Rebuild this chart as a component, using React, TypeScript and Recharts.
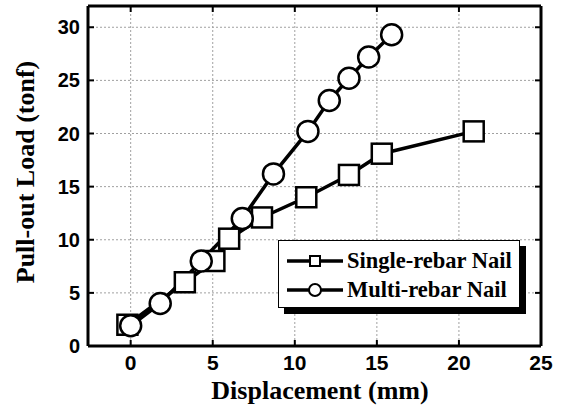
import React from "react";
import {
  LineChart,
  Line,
  XAxis,
  YAxis,
  CartesianGrid,
  Legend,
  Label,
} from "recharts";

// Single-rebar nail (squares)
const singleX = [-0.2, 3.3, 5.1, 6.0, 8.0, 10.7, 13.3, 15.3, 20.9];
const singleY = [2.0, 6.0, 8.0, 10.1, 12.1, 14.0, 16.1, 18.1, 20.2];
// Multi-rebar nail (circles)
const multiX = [0, 1.8, 4.3, 6.8, 8.7, 10.8, 12.1, 13.3, 14.5, 15.9];
const multiY = [1.9, 4.0, 8.0, 12.0, 16.2, 20.2, 23.1, 25.2, 27.2, 29.3];

const xTicks = [0, 5, 10, 15, 20, 25];
const yTicks = [0, 5, 10, 15, 20, 25, 30];

const seriesNames = ["Single-rebar Nail", "Multi-rebar Nail"];

// one table, sorted by displacement; each row carries one series value
const rows = [
  ...singleX.map((x, i) => ({ x, single: singleY[i] as number | null, multi: null as number | null })),
  ...multiX.map((x, i) => ({ x, single: null as number | null, multi: multiY[i] as number | null })),
].sort((a, b) => a.x - b.x);

const tickFont = "'Liberation Sans', Arial, sans-serif";
const titleFont = "'Liberation Serif', 'Times New Roman', serif";

const SquareDot = (props: any) => {
  const { cx, cy, index, value } = props;
  if (value == null || cy == null) return <g key={"s" + index} />;
  return (
    <rect
      key={"s" + index}
      x={cx - 10}
      y={cy - 10}
      width={20}
      height={20}
      fill="#fff"
      stroke="#000"
      strokeWidth={2.5}
    />
  );
};

const CircleDot = (props: any) => {
  const { cx, cy, index, value } = props;
  if (value == null || cy == null) return <g key={"c" + index} />;
  return (
    <circle
      key={"c" + index}
      cx={cx}
      cy={cy}
      r={10.5}
      fill="#fff"
      stroke="#000"
      strokeWidth={2.5}
    />
  );
};

const BottomTick = (props: any) => {
  const { x, y, payload } = props;
  return (
    <g>
      <path d={`M${x},${y}V${y - 6}`} stroke="#000" strokeWidth={2} />
      <text
        x={x}
        y={y + 24}
        textAnchor="middle"
        fontFamily={tickFont}
        fontWeight="bold"
        fontSize={21}
        fill="#000"
      >
        {payload.value}
      </text>
    </g>
  );
};

const TopTick = (props: any) => {
  const { x, y } = props;
  return <path d={`M${x},${y}V${y + 6}`} stroke="#000" strokeWidth={2} />;
};

const LeftTick = (props: any) => {
  const { x, y, payload } = props;
  return (
    <g>
      <path d={`M${x},${y}H${x + 6}`} stroke="#000" strokeWidth={2} />
      <text
        x={x - 8}
        y={y + 7}
        textAnchor="end"
        fontFamily={tickFont}
        fontWeight="bold"
        fontSize={20}
        fill="#000"
      >
        {payload.value}
      </text>
    </g>
  );
};

const RightTick = (props: any) => {
  const { x, y } = props;
  return <path d={`M${x},${y}H${x - 6}`} stroke="#000" strokeWidth={2} />;
};

const LegendBox = () => (
  <div
    style={{
      border: "1.5px solid #000",
      boxShadow: "6px 6px 0 #000",
      background: "#fff",
      padding: "5px 4px",
      width: 242,
      height: 68,
      boxSizing: "border-box",
    }}
  >
    {seriesNames.map((name, i) => (
      <div key={name} style={{ display: "flex", alignItems: "center", height: 29 }}>
        <svg width={60} height={20} style={{ marginRight: 4 }}>
          <path d="M4,10H60" stroke="#000" strokeWidth={3.5} />
          {i === 0 ? (
            <rect x={27} y={5} width={10} height={10} fill="#fff" stroke="#000" strokeWidth={2} />
          ) : (
            <circle cx={32} cy={10} r={6} fill="#fff" stroke="#000" strokeWidth={2} />
          )}
        </svg>
        <span
          style={{
            fontFamily: titleFont,
            fontWeight: "bold",
            fontSize: 22.5,
            color: "#000",
            whiteSpace: "nowrap",
          }}
        >
          {name}
        </span>
      </div>
    ))}
  </div>
);

const App = () => {
  return (
    <div style={{ position: "absolute", left: 0, top: 0, background: "#fff" }}>
      <LineChart
        width={566}
        height={410}
        data={rows}
        margin={{ top: 5, right: 24, bottom: 0, left: 0 }}
      >
        <CartesianGrid stroke="#a0a0a0" strokeDasharray="2 2" strokeWidth={1} />
        <XAxis
          type="number"
          dataKey="x"
          domain={[-2.6, 25]}
          ticks={xTicks}
          allowDataOverflow
          height={64}
          tickSize={0}
          tickMargin={0}
          tickLine={false}
          axisLine={{ stroke: "#000", strokeWidth: 3 }}
          tick={<BottomTick />}
        >
          <Label
            content={() => (
              <text
                x={320}
                y={399}
                textAnchor="middle"
                fontFamily={titleFont}
                fontWeight="bold"
                fontSize={26}
                fill="#000"
              >
                Displacement (mm)
              </text>
            )}
          />
        </XAxis>
        <XAxis
          xAxisId="t"
          orientation="top"
          type="number"
          dataKey="x"
          domain={[-2.6, 25]}
          ticks={xTicks}
          allowDataOverflow
          height={1}
          tickSize={0}
          tickMargin={0}
          tickLine={false}
          axisLine={{ stroke: "#000", strokeWidth: 3 }}
          tick={<TopTick />}
        />
        <YAxis
          type="number"
          domain={[0, 32]}
          ticks={yTicks}
          allowDataOverflow
          width={88}
          tickSize={0}
          tickMargin={0}
          tickLine={false}
          axisLine={{ stroke: "#000", strokeWidth: 3 }}
          tick={<LeftTick />}
        >
          <Label
            content={() => (
              <text
                x={25}
                y={172}
                transform="rotate(-90 25 172)"
                textAnchor="middle"
                dominantBaseline="central"
                fontFamily={titleFont}
                fontWeight="bold"
                fontSize={26}
                fill="#000"
              >
                Pull-out Load (tonf)
              </text>
            )}
          />
        </YAxis>
        <YAxis
          yAxisId="r"
          orientation="right"
          type="number"
          domain={[0, 32]}
          ticks={yTicks}
          allowDataOverflow
          width={1}
          tickSize={0}
          tickMargin={0}
          tickLine={false}
          axisLine={{ stroke: "#000", strokeWidth: 3 }}
          tick={<RightTick />}
        />
        <Legend
          layout="horizontal"
          verticalAlign="middle"
          align="center"
          wrapperStyle={{ left: 278, top: 240, width: 242 }}
          content={<LegendBox />}
        />
        <Line
          dataKey="single"
          name={seriesNames[0]}
          stroke="#000"
          strokeWidth={3.5}
          connectNulls
          dot={<SquareDot />}
          activeDot={false}
          isAnimationActive={false}
        />
        <Line
          dataKey="multi"
          name={seriesNames[1]}
          stroke="#000"
          strokeWidth={3.5}
          connectNulls
          dot={<CircleDot />}
          activeDot={false}
          isAnimationActive={false}
        />
      </LineChart>
    </div>
  );
};

export default App;
